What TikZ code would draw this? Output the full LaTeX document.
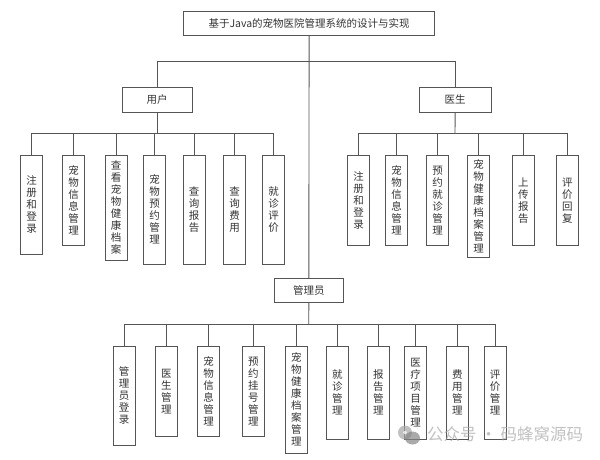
\documentclass[tikz,border=0pt]{standalone}
\usepackage{fontspec}
\setmainfont{Noto Sans CJK SC}
\definecolor{ink}{HTML}{555555}
\definecolor{txt}{HTML}{333333}
\definecolor{wm}{HTML}{A8A8A8}
\tikzset{
  box/.style={draw=ink,line width=0.9pt,fill=white,text=txt,inner sep=0pt,align=center,
    font=\fontsize{10.5}{12}\selectfont},
  link/.style={draw=ink,line width=0.9pt},
}
% name, x1, x2, y1, y2, text
\newcommand{\bx}[6]{%
  \path let \n1={#3-(#2)}, \n2={#5-(#4)} in
    node[box,minimum width=\n1 pt,minimum height=\n2 pt] (#1) at ({(#2+#3)/2},{(#4+#5)/2}) {#6};}
\usetikzlibrary{calc}
\begin{document}
\begin{tikzpicture}[x=1pt,y=-1pt]
\useasboundingbox (0,0) rectangle (600,459);
\fill[white] (0,0) rectangle (600,459);

\coordinate (tbus) at (308.7,61.5);
\coordinate (ubus) at (157,133.5);
\coordinate (dbus) at (455,133.5);
\coordinate (abus) at (308.7,324.3);

\bx{title}{183.5}{434.7}{11}{35.5}{基于Java的宠物医院管理系统的设计与实现}
\bx{user}{122}{192}{87.5}{112}{用户}
\bx{doc}{419.3}{491}{87.5}{112}{医生}
\bx{admin}{274}{343.7}{278.3}{302.7}{管理员}

\bx{u1}{20.5}{42.5}{155}{254}{注\\册\\和\\登\\录}
\bx{u2}{62.5}{84.5}{155}{245.5}{宠\\物\\信\\息\\管\\理}
\bx{u3}{105}{127}{155}{260.5}{查\\看\\宠\\物\\健\\康\\档\\案}
\bx{u4}{143.5}{165.5}{155}{264}{宠\\物\\预\\约\\管\\理}
\bx{u5}{183}{205}{155}{264}{查\\询\\报\\告}
\bx{u6}{223.5}{245.5}{155}{264}{查\\询\\费\\用}
\bx{u7}{262.5}{284.5}{155}{264}{就\\诊\\评\\价}

\bx{d1}{347.3}{369.7}{155}{245.5}{注\\册\\和\\登\\录}
\bx{d2}{385.3}{407.7}{155}{245.5}{宠\\物\\信\\息\\管\\理}
\bx{d3}{426.3}{448.7}{155}{245.5}{预\\约\\就\\诊\\管\\理}
\bx{d4}{467.7}{489.7}{155}{257.5}{宠\\物\\健\\康\\档\\案\\管\\理}
\bx{d5}{512.3}{534.3}{155}{245.5}{上\\传\\报\\告}
\bx{d6}{556.3}{578.3}{155}{245.5}{评\\价\\回\\复}

\bx{a1}{113}{135}{346}{445.3}{管\\理\\员\\登\\录}
\bx{a2}{155.3}{177.3}{346}{436.3}{医\\生\\管\\理}
\bx{a3}{197.5}{219.5}{346}{436.3}{宠\\物\\信\\息\\管\\理}
\bx{a4}{242.3}{264.3}{346}{436.3}{预\\约\\挂\\号\\管\\理}
\bx{a5}{285.3}{307.3}{346}{453.3}{宠\\物\\健\\康\\档\\案\\管\\理}
\bx{a6}{326.3}{348.3}{346}{439}{就\\诊\\管\\理}
\bx{a7}{367.3}{389.3}{346}{439}{报\\告\\管\\理}
\bx{a8}{404.7}{426.7}{346}{439}{医\\疗\\项\\目\\管\\理}
\bx{a9}{446.3}{468.3}{346}{439}{费\\用\\管\\理}
\bx{a10}{484}{506}{346}{439}{评\\价\\管\\理}

\draw[link] (title.south) -- (admin.north);
\draw[link] (tbus) -| (user.north);
\draw[link] (tbus) -| (doc.north);
\draw[link] (user.south) -- (ubus);
\draw[link] (doc.south) -- (dbus);
\draw[link] (admin.south) -- (abus);
\foreach \k in {1,...,7} \draw[link] (ubus) -| (u\k.north);
\foreach \k in {1,...,6} \draw[link] (dbus) -| (d\k.north);
\foreach \k in {1,...,10} \draw[link] (abus) -| (a\k.north);

% watermark
\begin{scope}[opacity=0.7]
\fill[wm] (405,432.5) ellipse [x radius=7,y radius=7];
\fill[white] (405,432.5) ellipse [x radius=2,y radius=1.5];
\fill[wm!80!black] (412.5,438) ellipse [x radius=7.5,y radius=6.5];
\node[text=wm,font=\fontsize{16.5}{18}\selectfont,inner sep=0pt,anchor=west] (mark) at (427,434.5) {公众号 · 码蜂窝源码};
\end{scope}
\end{tikzpicture}
\end{document}
